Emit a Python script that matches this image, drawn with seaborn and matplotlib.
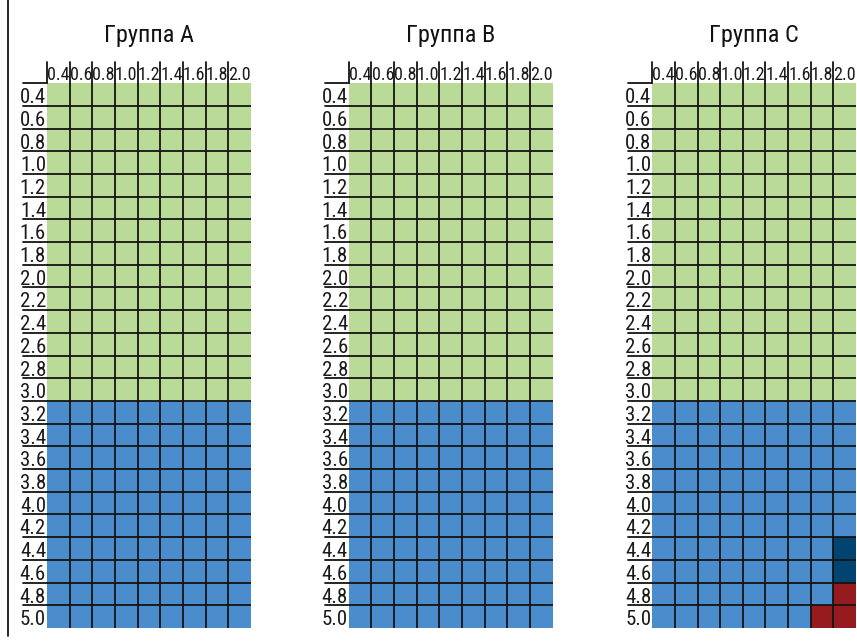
import numpy as np
import seaborn as sns
import matplotlib.pyplot as plt
from matplotlib.colors import ListedColormap
from matplotlib.lines import Line2D
from matplotlib import font_manager

col_labels = ["0.4", "0.6", "0.8", "1.0", "1.2", "1.4", "1.6", "1.8", "2.0"]
row_labels = ["0.4", "0.6", "0.8", "1.0", "1.2", "1.4", "1.6", "1.8", "2.0", "2.2",
              "2.4", "2.6", "2.8", "3.0", "3.2", "3.4", "3.6", "3.8", "4.0", "4.2",
              "4.4", "4.6", "4.8", "5.0"]

# G = green, B = blue, D = dark blue, R = red
group_a = ["GGGGGGGGG"] * 14 + ["BBBBBBBBB"] * 10
group_b = ["GGGGGGGGG"] * 14 + ["BBBBBBBBB"] * 10
group_c = (["GGGGGGGGG"] * 14 + ["BBBBBBBBB"] * 6
           + ["BBBBBBBBD", "BBBBBBBBD", "BBBBBBBBR", "BBBBBBBRR"])

titles = ["Группа A", "Группа B", "Группа C"]
groups = [group_a, group_b, group_c]

codes = {"G": 0, "B": 1, "D": 2, "R": 3}
cmap = ListedColormap(["#b9db97", "#4b8dcc", "#00446f", "#961b1f"])

sns.set_theme(style="white")
names = {f.name for f in font_manager.fontManager.ttflist}
fam = [f for f in ["Roboto Condensed", "Liberation Sans Narrow", "DejaVu Sans"] if f in names]
plt.rcParams["font.family"] = fam

fig = plt.figure(figsize=(8.57, 6.41), dpi=100)
lefts = [0.0548, 0.407, 0.761]
grid_col = "#141414"

for left, title, grp in zip(lefts, titles, groups):
    ax = fig.add_axes([left, 0.0203, 0.238, 0.850])
    mat = np.array([[codes[c] for c in row] for row in grp])
    sns.heatmap(mat, ax=ax, cmap=cmap, vmin=-0.5, vmax=3.5, cbar=False,
                linewidths=0, square=False)
    ax.set_xticks([])
    ax.set_yticks([])
    ncol = len(col_labels)
    nrow = len(row_labels)
    # interior grid only
    ax.hlines(np.arange(1, nrow), 0, ncol, color=grid_col, lw=1.3)
    ax.vlines(np.arange(1, ncol), 0, nrow, color=grid_col, lw=1.3)
    # row labels with underline
    for i, lab in enumerate(row_labels):
        ax.text(-0.04, i + 0.88, lab, ha="right", va="baseline", fontsize=15,
                color="#1a1a1a")
        ax.plot([-1.05, 0], [i, i], color=grid_col, lw=1.3, clip_on=False)
    # column labels with separators
    for j, lab in enumerate(col_labels):
        ax.text(j + 0.5, -0.15, lab, ha="center", va="baseline", fontsize=13,
                color="#1a1a1a")
        ax.plot([j, j], [-0.95, 0], color=grid_col, lw=1.3, clip_on=False)
    ax.text(ncol / 2, -2.1, title, ha="center", va="center", fontsize=17.5,
            color="#111111")

fig.add_artist(Line2D([8 / 857, 8 / 857], [1 - 636 / 641, 1.0], color="black",
                      lw=1.2, transform=fig.transFigure))

fig.savefig("out.png", dpi=100)
